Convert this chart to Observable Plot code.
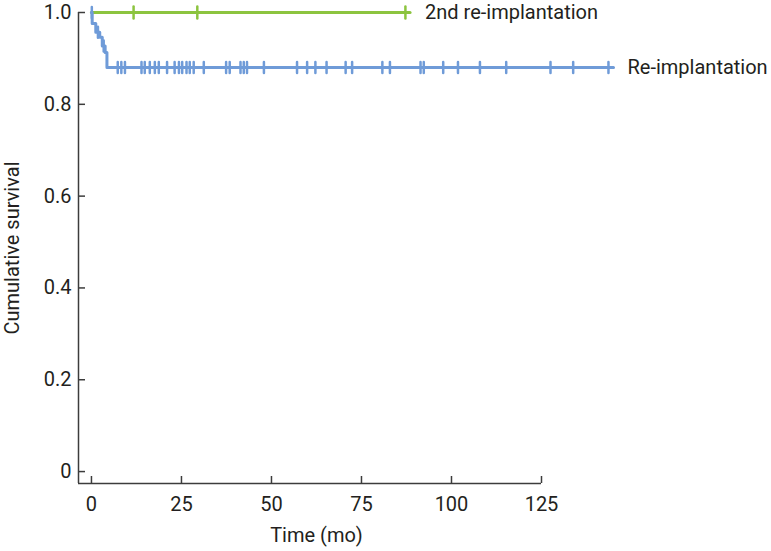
<!DOCTYPE html>
<html><head><meta charset="utf-8">
<script src="https://cdn.jsdelivr.net/npm/d3@7"></script>
<script src="https://cdn.jsdelivr.net/npm/@observablehq/plot@0.6"></script>
<style>html,body{margin:0;padding:0;background:#fff}</style>
</head><body><div id="chart"></div>
<script>
// ---- data ----
const xTicks = [0, 25, 50, 75, 100, 125];
const yTicks = [0, 0.2, 0.4, 0.6, 0.8, 1.0];
const yTickLabels = ["0", "0.2", "0.4", "0.6", "0.8", "1.0"];

const seriesNames = ["2nd re-implantation", "Re-implantation"];

// Re-implantation: step curve (time in months, cumulative survival)
const reTimes = [0, 0.2, 1.2, 2.3, 3.0, 3.8, 4.3, 145];
const reSurv  = [1, 0.976, 0.957, 0.946, 0.927, 0.913, 0.88, 0.88];
// censored observations
const reCensorTimes = [0.1, 1.8, 3.4, 7.3, 8.3, 9.3, 13.9, 14.8, 16.2, 17.6, 18.7, 21.0, 23.1, 24.3, 25.2, 26.4, 27.3, 28.4, 31.2, 37.4, 38.4, 41.4, 42.3, 43.2, 47.9, 57.1, 59.9, 62.2, 65.3, 70.6, 72.4, 80.8, 82.9, 91.4, 92.3, 97.7, 101.8, 107.9, 115.2, 127.5, 133.8, 143.6];
const reCensorSurv  = [1, 0.957, 0.927, 0.88, 0.88, 0.88, 0.88, 0.88, 0.88, 0.88, 0.88, 0.88, 0.88, 0.88, 0.88, 0.88, 0.88, 0.88, 0.88, 0.88, 0.88, 0.88, 0.88, 0.88, 0.88, 0.88, 0.88, 0.88, 0.88, 0.88, 0.88, 0.88, 0.88, 0.88, 0.88, 0.88, 0.88, 0.88, 0.88, 0.88, 0.88, 0.88];

// 2nd re-implantation
const secTimes = [0, 88.5];
const secSurv  = [1, 1];
const secCensorTimes = [11.7, 29.4, 87.2];
const secCensorSurv  = [1, 1, 1];

// ---- build tables ----
const reLine = reTimes.map((t, i) => ({t, s: reSurv[i]}));
const secLine = secTimes.map((t, i) => ({t, s: secSurv[i]}));
const reCens = reCensorTimes.map((t, i) => ({t, s: reCensorSurv[i]}));
const secCens = secCensorTimes.map((t, i) => ({t, s: secCensorSurv[i]}));

const blue = "#6f9bd8";
const green = "#8cc43f";
const axisColor = "#3c3c3c";
const textColor = "#231f20";
const xDomain = [-3.6, 125];
const yDomain = [-0.026, 1];
const xMid = (xTicks[0] + xTicks[xTicks.length - 1]) / 2;

const censorShape = {draw(ctx, l) { ctx.moveTo(0, 0); ctx.lineTo(0, -l); }};

const chart = Plot.plot({
  width: 771,
  height: 551,
  marginLeft: 78,
  marginRight: 230,
  marginTop: 12,
  marginBottom: 68,
  style: {fontFamily: "Roboto, sans-serif", fontSize: "20px", color: textColor, background: "#fff"},
  x: {domain: xDomain, ticks: xTicks},
  y: {domain: yDomain, ticks: yTicks},
  marks: [
    Plot.axisX(xTicks, {anchor: "bottom", tickSize: -7, tickPadding: 20, stroke: axisColor, strokeWidth: 1.5, label: null, fill: textColor}),
    Plot.axisY(yTicks, {anchor: "left", tickSize: -7, tickPadding: 14, stroke: axisColor, strokeWidth: 1.5, tickFormat: (d) => yTickLabels[yTicks.indexOf(d)], label: "Cumulative survival", labelAnchor: "center", labelOffset: 74, labelArrow: "none", fill: textColor}),
    Plot.ruleY([yDomain[0]], {stroke: axisColor, strokeWidth: 1.5}),
    Plot.ruleX([xDomain[0]], {stroke: axisColor, strokeWidth: 1.5}),
    Plot.text(["Time (mo)"], {x: () => xMid, frameAnchor: "bottom", lineAnchor: "top", dy: 44, fill: textColor}),
    Plot.line(secLine, {x: "t", y: "s", stroke: green, strokeWidth: 3, curve: "step-after"}),
    Plot.line(reLine, {x: "t", y: "s", stroke: blue, strokeWidth: 3, curve: "step-after"}),
    Plot.vector(secCens, {x: "t", y: "s", length: 12, rotate: 0, anchor: "middle", shape: censorShape, stroke: green, strokeWidth: 2.5}),
    Plot.vector(reCens, {x: "t", y: "s", length: 11, rotate: 0, anchor: "middle", shape: censorShape, stroke: blue, strokeWidth: 2.5}),
    Plot.text([seriesNames[0]], {x: () => secTimes[secTimes.length - 1], y: () => secSurv[secSurv.length - 1], textAnchor: "start", dx: 15, fill: textColor}),
    Plot.text([seriesNames[1]], {x: () => reTimes[reTimes.length - 1], y: () => reSurv[reSurv.length - 1], textAnchor: "start", dx: 14, fill: textColor})
  ]
});
document.getElementById("chart").appendChild(chart);
</script>
</body></html>
